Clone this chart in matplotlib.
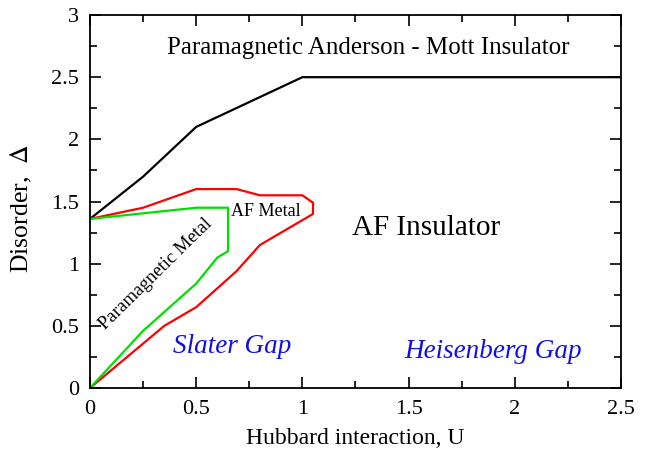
import matplotlib
matplotlib.use("Agg")
import matplotlib.pyplot as plt
from matplotlib.ticker import MultipleLocator

plt.rcParams['font.family'] = ['Liberation Serif', 'DejaVu Serif']
plt.rcParams['mathtext.fontset'] = 'stix'

# phase boundaries
black_u = [0.0, 0.25, 0.5, 1.0, 2.5]
black_d = [1.36, 1.70, 2.10, 2.50, 2.50]

red_u = [0.0, 0.25, 0.5, 0.69, 0.80, 1.0, 1.05, 1.05, 0.80, 0.69, 0.5, 0.35, 0.0]
red_d = [1.36, 1.45, 1.60, 1.60, 1.55, 1.55, 1.49, 1.40, 1.15, 0.94, 0.65, 0.50, 0.0]

green_u = [0.0, 0.5, 0.65, 0.65, 0.60, 0.5, 0.25, 0.0]
green_d = [1.36, 1.45, 1.45, 1.10, 1.05, 0.84, 0.46, 0.0]

fig = plt.figure(figsize=(6.54, 4.51), dpi=100)
ax = fig.add_axes([0.1376, 0.1397, 0.8119, 0.827])

ax.plot(black_u, black_d, color='black', lw=1.6)
ax.plot(red_u, red_d, color='red', lw=1.6)
ax.plot(green_u, green_d, color='#00e000', lw=1.6)

ax.text(1.31, 2.735, 'Paramagnetic Anderson - Mott Insulator', fontsize=18,
        ha='center', va='center')
ax.text(1.58, 1.29, 'AF Insulator', fontsize=21, ha='center', va='center')
ax.text(0.83, 1.42, 'AF Metal', fontsize=13, ha='center', va='center')
ax.text(0.31, 0.92, 'Paramagnetic Metal', fontsize=13.5, rotation=44.5,
        ha='center', va='center', rotation_mode='anchor')
ax.text(0.67, 0.33, 'Slater Gap', fontsize=19.5, style='italic', color='#1010e0',
        ha='center', va='center')
ax.text(1.9, 0.29, 'Heisenberg Gap', fontsize=19.5, style='italic', color='#1010e0',
        ha='center', va='center')

ax.set_xlim(0, 2.5)
ax.set_ylim(0, 3)
ax.xaxis.set_minor_locator(MultipleLocator(0.25))
ax.yaxis.set_minor_locator(MultipleLocator(0.25))
ax.set_xticks([0, 0.5, 1, 1.5, 2, 2.5], ['0', '0.5', '1', '1.5', '2', '2.5'])
ax.set_yticks([0, 0.5, 1, 1.5, 2, 2.5, 3], ['0', '0.5', '1', '1.5', '2', '2.5', '3'])
ax.tick_params(which='both', direction='in', top=True, right=True, labelsize=16, width=1.2)
ax.tick_params(which='major', length=8)
ax.tick_params(axis='x', which='major', pad=9)
ax.tick_params(axis='y', which='major', pad=8)
ax.tick_params(which='minor', length=5)
for s in ax.spines.values():
    s.set_linewidth(1.3)

ax.set_xlabel('Hubbard interaction, U', fontsize=17)
ax.xaxis.set_label_coords(0.5, -0.108)
ax.set_ylabel('Disorder,  $\\Delta$', fontsize=18.5)
ax.yaxis.set_label_coords(-0.105, 0.48)

fig.savefig('out.png', dpi=100)
